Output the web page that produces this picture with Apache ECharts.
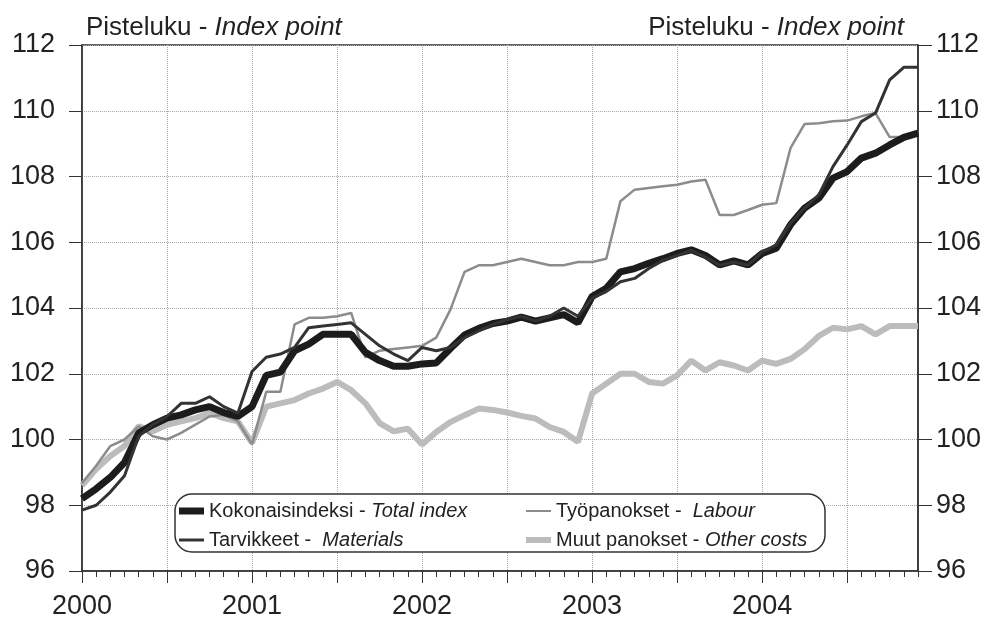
<!DOCTYPE html>
<html>
<head>
<meta charset="utf-8">
<script src="https://cdn.jsdelivr.net/npm/echarts@6/dist/echarts.min.js"></script>
<style>
html,body{margin:0;padding:0;background:#fff;}
#chart{width:992px;height:620px;}
</style>
</head>
<body>
<div id="chart"></div>
<script>
var years = ['2000', '2001', '2002', '2003', '2004'];
var months = ['01','02','03','04','05','06','07','08','09','10','11','12'];
var categories = [];
years.forEach(function (y) { months.forEach(function (m) { categories.push(y + '-' + m); }); });

var totalIndex = [
  98.2, 98.5, 98.85, 99.3, 100.2, 100.45, 100.65, 100.75, 100.9, 101.0, 100.82, 100.7,
  101.0, 101.95, 102.05, 102.7, 102.9, 103.2, 103.2, 103.2, 102.65, 102.4, 102.23, 102.23,
  102.3, 102.33, 102.77, 103.18, 103.38, 103.53, 103.6, 103.72, 103.6, 103.7, 103.8, 103.55,
  104.35, 104.6, 105.1, 105.2, 105.36, 105.5, 105.66, 105.77, 105.6, 105.31, 105.43, 105.31,
  105.66, 105.82, 106.53, 107.04, 107.34, 107.95, 108.15, 108.56, 108.71, 108.96, 109.19, 109.32
];
var materials = [
  97.85, 98.0, 98.4, 98.9, 100.1, 100.45, 100.7, 101.1, 101.1, 101.3, 101.0, 100.8,
  102.07, 102.5, 102.6, 102.8, 103.4, 103.45, 103.5, 103.55, 103.2, 102.85, 102.6, 102.4,
  102.8, 102.7, 102.8, 103.1, 103.3, 103.5, 103.65, 103.75, 103.6, 103.75, 104.0, 103.75,
  104.3, 104.5, 104.8, 104.9, 105.2, 105.45, 105.6, 105.75, 105.55, 105.3, 105.4, 105.3,
  105.7, 105.92, 106.58, 107.04, 107.44, 108.3, 108.96, 109.67, 109.93, 110.94, 111.32, 111.32
];
var labour = [
  98.67, 99.2, 99.8, 100.0, 100.4, 100.1, 100.0, 100.2, 100.45, 100.7, 100.75, 100.55,
  99.85, 101.45, 101.45, 103.5, 103.7, 103.7, 103.75, 103.85, 102.5, 102.7, 102.75, 102.8,
  102.85, 103.1, 103.95, 105.1, 105.3, 105.3, 105.4, 105.5, 105.4, 105.3, 105.3, 105.4,
  105.4, 105.5, 107.25, 107.6, 107.65, 107.7, 107.75, 107.85, 107.9, 106.83, 106.83, 106.98,
  107.14, 107.19, 108.86, 109.6, 109.62, 109.68, 109.7, 109.83, 109.93, 109.2, 109.2, 109.3
];
var otherCosts = [
  98.6, 99.1, 99.5, 99.8, 100.4, 100.25, 100.45, 100.55, 100.65, 100.8, 100.65, 100.55,
  99.9, 101.0, 101.1, 101.2, 101.4, 101.55, 101.75, 101.5, 101.1, 100.5, 100.25, 100.33,
  99.85, 100.23, 100.53, 100.74, 100.94, 100.9, 100.82, 100.72, 100.64, 100.38, 100.23, 99.93,
  101.4, 101.7, 102.0, 102.0, 101.75, 101.7, 101.95, 102.4, 102.1, 102.35, 102.25, 102.1,
  102.4, 102.3, 102.45, 102.75, 103.15, 103.4, 103.35, 103.45, 103.2, 103.45, 103.45, 103.45
];
var yTicks = { min: 96, max: 112, step: 2 };

var names = {
  total: ['Kokonaisindeksi - ', 'Total index'],
  mat: ['Tarvikkeet -  ', 'Materials'],
  lab: ['Työpanokset -  ', 'Labour'],
  oth: ['Muut panokset - ', 'Other costs']
};
function nm(k) { return names[k][0] + names[k][1]; }

var FONT = '"Liberation Sans", Arial, sans-serif';
var TXT = '#222';

var chart = echarts.init(document.getElementById('chart'), null, { renderer: 'canvas' });

function legendFormatter(name) {
  for (var k in names) {
    if (nm(k) === name) return '{n|' + names[k][0] + '}{i|' + names[k][1] + '}';
  }
  return name;
}
var legendText = {
  color: TXT, fontFamily: FONT, fontSize: 20,
  rich: {
    n: { color: TXT, fontFamily: FONT, fontSize: 20 },
    i: { color: TXT, fontFamily: FONT, fontSize: 20, fontStyle: 'italic' }
  }
};
var titleRich = {
  a: { fontFamily: FONT, fontSize: 26, color: TXT, fontWeight: 'normal' },
  b: { fontFamily: FONT, fontSize: 26, color: TXT, fontWeight: 'normal', fontStyle: 'italic' }
};

var option = {
  backgroundColor: '#fff',
  animation: false,
  title: [
    {
      text: '{a|Pisteluku - }{b|Index point}',
      left: 81, top: 10,
      textStyle: { fontWeight: 'normal', rich: titleRich }
    },
    {
      text: '{a|Pisteluku - }{b|Index point}',
      right: 83, top: 10,
      textStyle: { fontWeight: 'normal', rich: titleRich }
    }
  ],
  grid: {
    left: 82, right: 74, top: 45, bottom: 48,
    show: true, borderColor: '#333', borderWidth: 1.5, backgroundColor: 'transparent'
  },
  graphic: [
    {
      type: 'rect', z: 5, zlevel: 0,
      shape: { x: 175, y: 494, width: 650, height: 58, r: 17 },
      style: { fill: '#fff', stroke: '#333', lineWidth: 1.5 }
    }
  ],
  legend: [
    {
      orient: 'vertical', left: 174, top: 496, z: 10,
      itemWidth: 25, itemHeight: 14, itemGap: 9,
      formatter: legendFormatter, textStyle: legendText,
      itemStyle: { borderWidth: 0 },
      selectedMode: false,
      data: [
        { name: nm('total'), icon: 'path://M0,0h25v7h-25z' },
        { name: nm('mat'), icon: 'path://M0,0h25v3h-25z' }
      ]
    },
    {
      orient: 'vertical', left: 521, top: 496, z: 10,
      itemWidth: 25, itemHeight: 14, itemGap: 9,
      formatter: legendFormatter, textStyle: legendText,
      itemStyle: { borderWidth: 0 },
      selectedMode: false,
      data: [
        { name: nm('lab'), icon: 'path://M0,0h25v2h-25z' },
        { name: nm('oth'), icon: 'path://M0,0h25v6h-25z' }
      ]
    }
  ],
  xAxis: [
    {
      type: 'category', data: categories, boundaryGap: false, position: 'bottom',
      axisLine: { show: true, lineStyle: { color: '#333', width: 1.5 } },
      axisTick: { show: true, interval: 0, length: 6, lineStyle: { color: '#333', width: 1 } },
      axisLabel: {
        interval: 11, margin: 22,
        formatter: function (v) { return v.slice(0, 4); },
        color: TXT, fontFamily: FONT, fontSize: 27
      },
      splitLine: { show: true, interval: 5, lineStyle: { color: '#a8a8a8', type: 'dotted', width: 1 } }
    },
    {
      type: 'category', data: categories, boundaryGap: false, position: 'bottom',
      axisLine: { show: false },
      axisTick: { show: true, interval: 5, length: 12, lineStyle: { color: '#333', width: 1 } },
      axisLabel: { show: false },
      splitLine: { show: false }
    }
  ],
  yAxis: [
    {
      type: 'value', position: 'left', min: yTicks.min, max: yTicks.max, interval: yTicks.step,
      axisLine: { show: true, lineStyle: { color: '#333', width: 1.5 } },
      axisTick: { show: true, length: 13, lineStyle: { color: '#333', width: 1 } },
      axisLabel: { margin: 27, color: TXT, fontFamily: FONT, fontSize: 27 },
      splitLine: { show: true, lineStyle: { color: '#a8a8a8', type: 'dotted', width: 1 } }
    },
    {
      type: 'value', position: 'right', min: yTicks.min, max: yTicks.max, interval: yTicks.step,
      axisLine: { show: true, lineStyle: { color: '#333', width: 1.5 } },
      axisTick: { show: true, length: 14, lineStyle: { color: '#333', width: 1 } },
      axisLabel: { margin: 18, color: TXT, fontFamily: FONT, fontSize: 27 },
      splitLine: { show: false }
    }
  ],
  series: [
    {
      name: nm('oth'), type: 'line', data: otherCosts, xAxisIndex: 0, yAxisIndex: 0,
      showSymbol: false, symbol: 'none', z: 2,
      color: '#bcbcbc', lineStyle: { color: '#bcbcbc', width: 6 }
    },
    {
      name: nm('lab'), type: 'line', data: labour, xAxisIndex: 0, yAxisIndex: 0,
      showSymbol: false, symbol: 'none', z: 2,
      color: '#8c8c8c', lineStyle: { color: '#8c8c8c', width: 2.5 }
    },
    {
      name: nm('total'), type: 'line', data: totalIndex, xAxisIndex: 0, yAxisIndex: 0,
      showSymbol: false, symbol: 'none', z: 2,
      color: '#1c1c1c', lineStyle: { color: '#1c1c1c', width: 7 }
    },
    {
      name: nm('mat'), type: 'line', data: materials, xAxisIndex: 0, yAxisIndex: 0,
      showSymbol: false, symbol: 'none', z: 2,
      color: '#333333', lineStyle: { color: '#333333', width: 3 }
    }
  ]
};
chart.setOption(option);
</script>
</body>
</html>
